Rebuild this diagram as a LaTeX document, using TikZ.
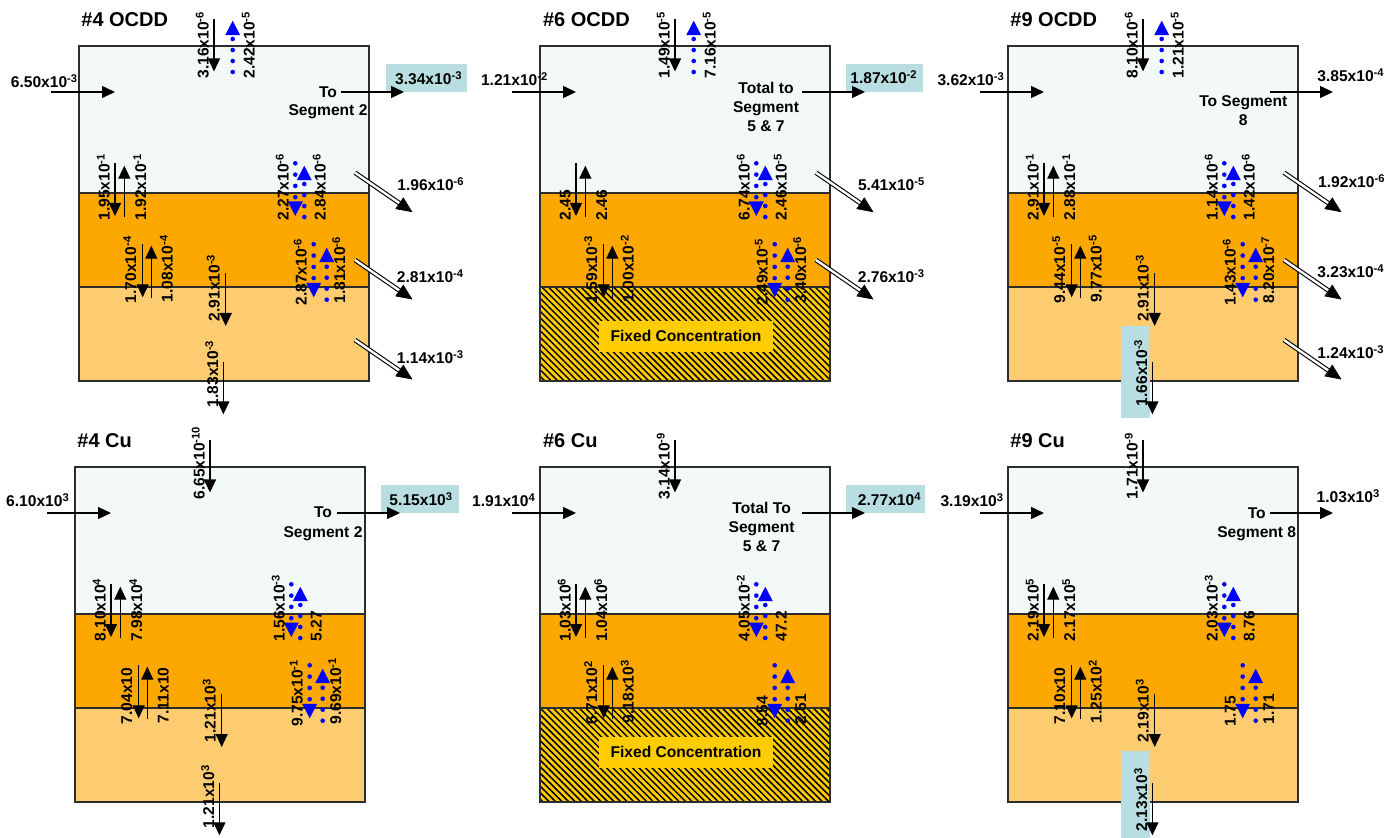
\documentclass[tikz,border=0pt]{standalone}
\usepackage{fontspec}
\setmainfont{Liberation Sans}
\usetikzlibrary{arrows.meta,calc,patterns.meta}

\definecolor{waterc}{RGB}{243,248,248}
\definecolor{sedAc}{RGB}{252,168,0}
\definecolor{sedBc}{RGB}{254,204,112}
\definecolor{cyanc}{RGB}{184,222,225}
\definecolor{goldc}{RGB}{255,204,0}
\definecolor{bordc}{RGB}{45,45,45}

\newcommand\sps[1]{\raisebox{0.32em}{\fontsize{5.6}{6}\selectfont#1}}
\newcommand\ex[2]{#1x10\sps{#2}}

\tikzset{
  num/.style={font=\fontsize{7.8}{9}\selectfont\bfseries, inner sep=0pt},
  hnum/.style={num, anchor=base},
  rnum/.style={num, rotate=90, anchor=base west},
  ttl/.style={font=\fontsize{10}{12}\selectfont\bfseries, inner sep=0pt, anchor=base west},
  arr/.style={line width=0.65pt, -{Triangle[length=6.5pt,width=6pt]}},
  bord/.style={draw=bordc, line width=0.55pt},
  dbl/.style={draw=black, double=white, line width=0.55pt, double distance=1.2pt},
  dtip/.style={line width=0.3pt, -{Triangle[length=8pt,width=7pt]}},
}

% panel layers
\newcommand\layersN{%
  \fill[waterc] (0,0) rectangle (290,147);
  \fill[sedAc] (0,147) rectangle (290,241);
  \fill[sedBc] (0,241) rectangle (290,335);
  \draw[bord] (0,147) -- (290,147) (0,241) -- (290,241);
  \draw[bord] (0,0) rectangle (290,335);}
\newcommand\layersF{%
  \fill[waterc] (0,0) rectangle (290,147);
  \fill[sedAc] (0,147) rectangle (290,241);
  \fill[goldc] (0,241) rectangle (290,335);
  \fill[pattern={Lines[angle=-45,distance=2.3pt,line width=0.75pt]}, pattern color=black] (0,241) rectangle (290,335);
  \draw[bord] (0,147) -- (290,147) (0,241) -- (290,241);
  \draw[bord] (0,0) rectangle (290,335);}

% blue dotted arrows
\newcommand\bdown[3]{%
  \foreach \k in {0,...,3} \fill[blue] (#1,#2+11.3*\k) circle (1.15pt);
  \fill[blue] (#1-7.5,#3-14.5) -- (#1+7.5,#3-14.5) -- (#1,#3) -- cycle;}
\newcommand\bup[3]{%
  \fill[blue] (#1-7.5,#2+14.5) -- (#1+7.5,#2+14.5) -- (#1,#2) -- cycle;
  \foreach \k in {0,...,3} \fill[blue] (#1,#3+11*\k) circle (1.15pt);}

\newcommand\topdep[1]{\draw[arr] (135,-27) -- (135,25.5); \node[rnum] (toplab) at (129.5,33) {#1};}
\newcommand\topblue[1]{\bup{153.7}{-25.3}{-7}\node[rnum] (topblab) at (175.5,33) {#1};}
\newcommand\inflow[3]{\draw[arr] (-28,46) -- (36,46); \node[hnum] (inlab) at (#1,#2) {#3};}
\newcommand\outarr{\draw[arr] (262,46) -- (325,46);}
\newcommand\bA[2]{\draw[arr] (36,117.3) -- (36,170); \draw[arr] (45.3,171.3) -- (45.3,119.7);
  \node[rnum] (bAl) at (30.5,175) {#1}; \node[rnum] (bAr) at (67,175) {#2};}
\newcommand\bB[2]{\draw[arr] (63.7,198.3) -- (63.7,251.3); \draw[arr] (72.3,252.3) -- (72.3,199.7);
  \node[rnum] (bBl) at (57,257.5) {#1}; \node[rnum] (bBr) at (93.7,256.5) {#2};}
\newcommand\cA[2]{\bdown{216.3}{117.3}{170}\bup{225.3}{119.7}{138}%
  \node[rnum] (cAl) at (209.5,175) {#1}; \node[rnum] (cAr) at (246.5,175) {#2};}
\newcommand\cB[2]{\bdown{234.7}{198.3}{251.3}\bup{247.7}{201.7}{220.7}%
  \node[rnum] (cBl) at (227.7,260) {#1}; \node[rnum] (cBr) at (266,258) {#2};}
\newcommand\burial[1]{\draw[arr] (146.7,227.3) -- (146.7,280); \node[rnum] (burlab) at (140.5,275.7) {#1};}
\newcommand\bottomout[2]{\draw[arr] (144.4,316) -- (144.4,368.3); \node[rnum] (botlab) at (139,#1) {#2};}
\newcommand\diag[5]{%
  \draw[dbl] (276,#1) -- ($(333.5,#1+39.5)!7pt!(276,#1)$);
  \draw[dtip] ($(333.5,#1+39.5)!8pt!(276,#1)$) -- (333.5,#1+39.5);
  \node[hnum] (#4) at (#2,#3) {#5};}

\begin{document}
\begin{tikzpicture}[x=0.5pt,y=-0.5pt]
\useasboundingbox (0,0) rectangle (1396,838);

% ---------- #4 OCDD ----------
\begin{scope}[shift={(79,46)}, name prefix=oa-]
  \layersN
  \node[ttl] (title) at (2,-19) {\#4 OCDD};
  \topdep{\ex{3.16}{-6}}
  \topblue{\ex{2.42}{-5}}
  \inflow{-35}{41.3}{\ex{6.50}{-3}}
  \fill[cyanc] (306.7,18.3) rectangle (388,46.3);
  \node[hnum] (outval) at (349.3,38.3) {\ex{3.34}{-3}};
  \outarr
  \node[hnum] (to1) at (249,51.3) {To};
  \node[hnum] (to2) at (249,70) {Segment 2};
  \bA{\ex{1.95}{-1}}{\ex{1.92}{-1}}
  \cA{\ex{2.27}{-6}}{\ex{2.84}{-6}}
  \bB{\ex{1.70}{-4}}{\ex{1.08}{-4}}
  \cB{\ex{2.87}{-6}}{\ex{1.81}{-6}}
  \burial{\ex{2.91}{-3}}
  \bottomout{361.7}{\ex{1.83}{-3}}
  \diag{126.7}{351.5}{144.5}{d1}{\ex{1.96}{-6}}
  \diag{214}{351}{236.2}{d2}{\ex{2.81}{-4}}
  \diag{294}{351}{317.8}{d3}{\ex{1.14}{-3}}
\end{scope}

% ---------- #6 OCDD ----------
\begin{scope}[shift={(540,46)}, name prefix=ob-]
  \layersF
  \node[ttl] (title) at (2.7,-19) {\#6 OCDD};
  \topdep{\ex{1.49}{-5}}
  \topblue{\ex{7.16}{-5}}
  \inflow{-25.8}{39.5}{\ex{1.21}{-2}}
  \fill[cyanc] (306,18) rectangle (383.3,45.7);
  \node[hnum] (outval) at (343.5,37.3) {\ex{1.87}{-2}};
  \outarr
  \node[hnum] (to1) at (226,47.8) {Total to};
  \node[hnum] (to2) at (226,66.8) {Segment};
  \node[hnum] (to3) at (226,85.5) {5 \& 7};
  \bA{2.45}{2.46}
  \cA{\ex{6.74}{-6}}{\ex{2.46}{-5}}
  \bB{\ex{1.59}{-3}}{\ex{1.00}{-2}}
  \cB{\ex{2.49}{-5}}{\ex{3.40}{-6}}
  \fill[goldc] (59,274.7) rectangle (232.7,305.7);
  \node[hnum] (fixed) at (146,295.5) {Fixed Concentration};
  \diag{126.7}{351.2}{144.5}{d1}{\ex{5.41}{-5}}
  \diag{214}{351}{236.2}{d2}{\ex{2.76}{-3}}
\end{scope}

% ---------- #9 OCDD ----------
\begin{scope}[shift={(1008,46)}, name prefix=oc-]
  \layersN
  \node[ttl] (title) at (2,-19) {\#9 OCDD};
  \topdep{\ex{8.10}{-6}}
  \topblue{\ex{1.21}{-5}}
  \inflow{-37.3}{39.5}{\ex{3.62}{-3}}
  \outarr
  \node[hnum] (outval) at (342.5,35.5) {\ex{3.85}{-4}};
  \node[hnum] (to1) at (235.3,60.5) {To Segment};
  \node[hnum] (to2) at (235.3,79.5) {8};
  \bA{\ex{2.91}{-1}}{\ex{2.88}{-1}}
  \cA{\ex{1.14}{-6}}{\ex{1.42}{-6}}
  \bB{\ex{9.44}{-5}}{\ex{9.77}{-5}}
  \cB{\ex{1.43}{-6}}{\ex{8.20}{-7}}
  \burial{\ex{2.91}{-3}}
  \fill[cyanc] (113,279.7) rectangle (141.7,372);
  \bottomout{360.7}{\ex{1.66}{-3}}
  \diag{126.7}{343.3}{141.2}{d1}{\ex{1.92}{-6}}
  \diag{214}{342.5}{231.8}{d2}{\ex{3.23}{-4}}
  \diag{294}{342.5}{312.8}{d3}{\ex{1.24}{-3}}
\end{scope}

% ---------- #4 Cu ----------
\begin{scope}[shift={(75,467)}, name prefix=ca-]
  \layersN
  \node[ttl] (title) at (2,-19) {\#4 Cu};
  \topdep{\ex{6.65}{-10}}
  \inflow{-37.5}{39.2}{\ex{6.10}{3}}
  \fill[cyanc] (306.3,18) rectangle (384,45.7);
  \node[hnum] (outval) at (345.8,38.5) {\ex{5.15}{3}};
  \outarr
  \node[hnum] (to1) at (248,50.8) {To};
  \node[hnum] (to2) at (248,70.2) {Segment 2};
  \bA{\ex{8.10}{4}}{\ex{7.98}{4}}
  \cA{\ex{1.56}{-3}}{5.27}
  \bB{7.04x10}{7.11x10}
  \cB{\ex{9.75}{-1}}{\ex{9.69}{-1}}
  \burial{\ex{1.21}{3}}
  \bottomout{361.7}{\ex{1.21}{3}}
\end{scope}

% ---------- #6 Cu ----------
\begin{scope}[shift={(540,467)}, name prefix=cb-]
  \layersF
  \node[ttl] (title) at (2.7,-19) {\#6 Cu};
  \topdep{\ex{3.14}{-9}}
  \inflow{-36.5}{39.2}{\ex{1.91}{4}}
  \fill[cyanc] (306,18.3) rectangle (385,45.7);
  \node[hnum] (outval) at (349.2,38.5) {\ex{2.77}{4}};
  \outarr
  \node[hnum] (to1) at (221.6,46.8) {Total To};
  \node[hnum] (to2) at (221.6,65.8) {Segment};
  \node[hnum] (to3) at (221.6,84.5) {5 \& 7};
  \bA{\ex{1.03}{6}}{\ex{1.04}{6}}
  \cA{\ex{4.05}{-2}}{47.2}
  \bB{\ex{6.71}{2}}{\ex{9.18}{3}}
  \cB{8.54}{2.51}
  \fill[goldc] (59,269.7) rectangle (233,300.7);
  \node[hnum] (fixed) at (146,290.7) {Fixed Concentration};
\end{scope}

% ---------- #9 Cu ----------
\begin{scope}[shift={(1008,467)}, name prefix=cc-]
  \layersN
  \node[ttl] (title) at (2,-19) {\#9 Cu};
  \topdep{\ex{1.71}{-9}}
  \inflow{-36.2}{39.2}{\ex{3.19}{3}}
  \outarr
  \node[hnum] (outval) at (340,35.2) {\ex{1.03}{3}};
  \node[hnum] (to1) at (248.7,51.5) {To};
  \node[hnum] (to2) at (248.7,70.8) {Segment 8};
  \bA{\ex{2.19}{5}}{\ex{2.17}{5}}
  \cA{\ex{2.03}{-3}}{8.76}
  \bB{7.10x10}{\ex{1.25}{2}}
  \cB{1.75}{1.71}
  \burial{\ex{2.19}{3}}
  \fill[cyanc] (113,284) rectangle (141.7,372);
  \bottomout{364.7}{\ex{2.13}{3}}
\end{scope}
\end{tikzpicture}
\end{document}
